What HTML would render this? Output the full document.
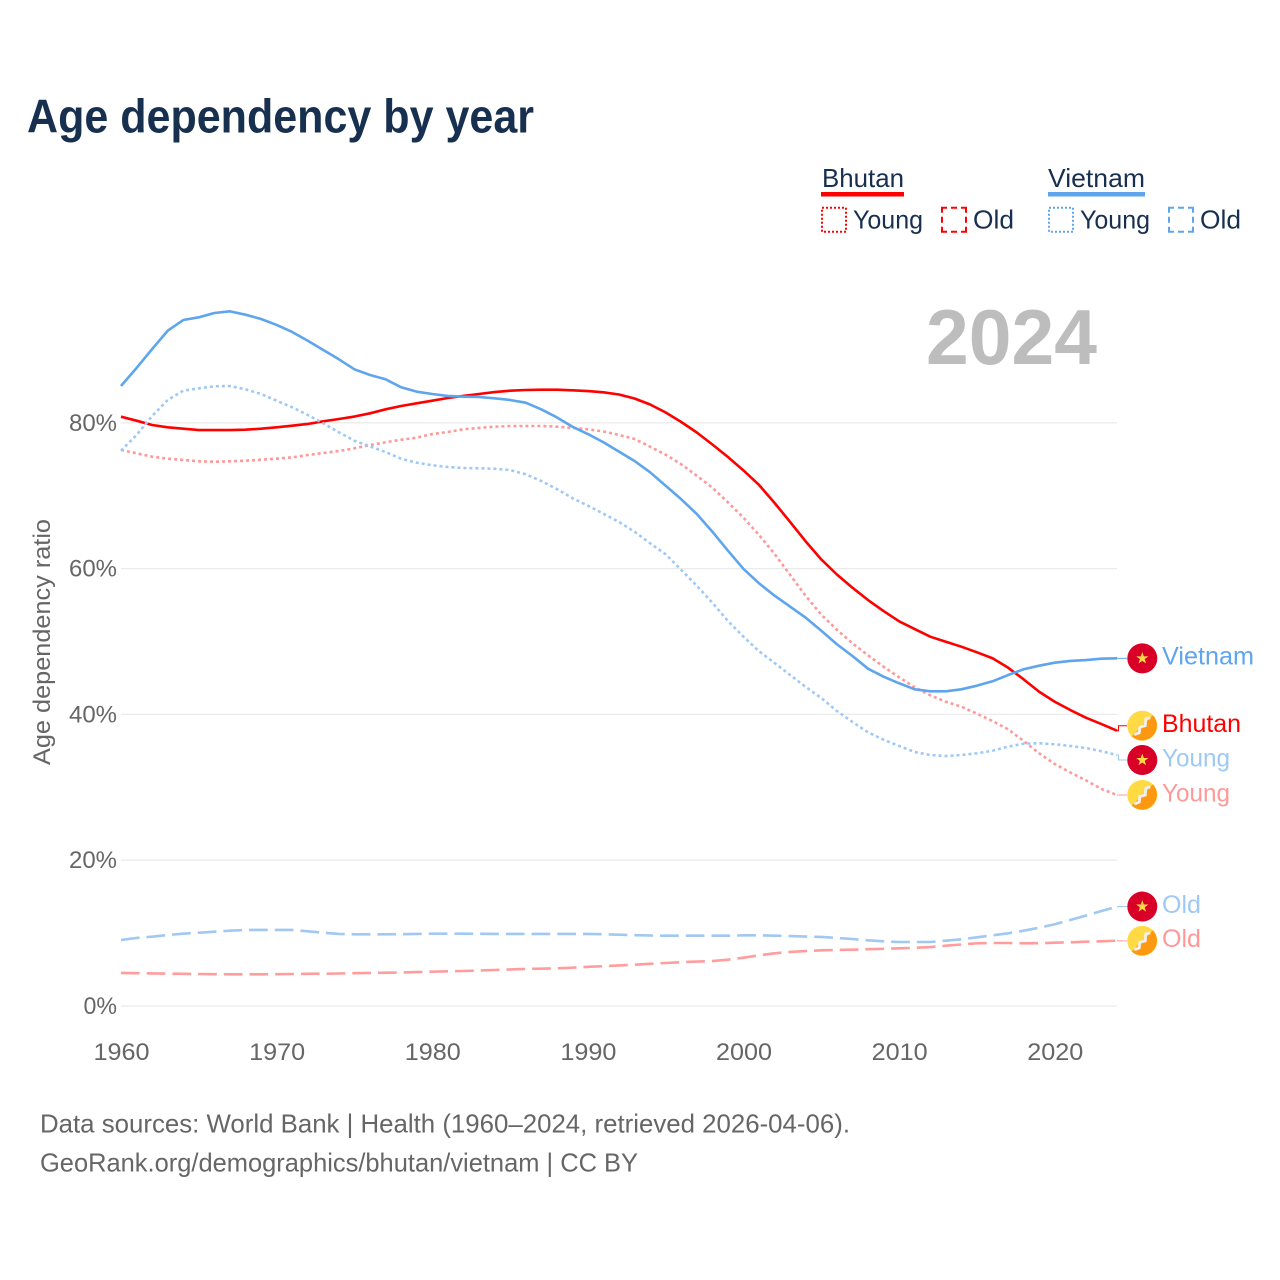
<!DOCTYPE html>
<html lang="en">
<head>
<meta charset="utf-8">
<title>Age dependency by year</title>
<style>
html,body{margin:0;padding:0;background:#fff;}
svg{display:block;}
text{font-family:"Liberation Sans",sans-serif;}
</style>
</head>
<body>
<svg id="chart" xmlns="http://www.w3.org/2000/svg" width="1280" height="1280" viewBox="0 0 1280 1280">
  <defs>
    <g id="flag-vietnam">
      <circle r="15" fill="#d80027"/>
      <polygon points="0,-6.4 1.5,-2 6.1,-2 2.4,0.8 3.8,5.2 0,2.5 -3.8,5.2 -2.4,0.8 -6.1,-2 -1.5,-2" fill="#ffda44"/>
    </g>
    <g id="flag-bhutan">
      <circle r="15" fill="#ffda44"/>
      <path d="M10.6,-10.6A15,15 0 0 1 -10.6,10.6Z" fill="#ff9811"/>
      <polyline points="-8,9 -3,7 -2.5,1.5 3,0 3.5,-7 8,-8" fill="none" stroke="#f0f0f0" stroke-width="2.8"/>
    </g>
  </defs>
  <rect width="1280" height="1280" fill="#fff"/>
  <text x="27" y="132.5" font-size="47" font-weight="700" fill="#18304f" textLength="507" lengthAdjust="spacingAndGlyphs">Age dependency by year</text>

  <g>
    <g>
      <text x="822" y="187" font-size="26" fill="#18304f" textLength="82" lengthAdjust="spacingAndGlyphs">Bhutan</text>
      <rect x="821" y="192" width="83" height="4.5" fill="#ff0000"/>
      <rect x="822" y="207.7" width="24" height="24" fill="none" stroke="#ff0000" stroke-width="2" stroke-dasharray="2 2"/>
      <text x="853" y="228.5" font-size="26" fill="#18304f" textLength="70" lengthAdjust="spacingAndGlyphs">Young</text>
      <rect x="942" y="207.7" width="24" height="24" fill="none" stroke="#ff0000" stroke-width="2" stroke-dasharray="10 4 6 4" stroke-dashoffset="5"/>
      <text x="973" y="228.5" font-size="26" fill="#18304f" textLength="41" lengthAdjust="spacingAndGlyphs">Old</text>
    </g>
    <g>
      <text x="1048" y="187" font-size="26" fill="#18304f" textLength="97" lengthAdjust="spacingAndGlyphs">Vietnam</text>
      <rect x="1048" y="192" width="97" height="4.5" fill="#5ea5ee"/>
      <rect x="1049" y="207.7" width="24" height="24" fill="none" stroke="#5ea5ee" stroke-width="2" stroke-dasharray="2 2"/>
      <text x="1080" y="228.5" font-size="26" fill="#18304f" textLength="70" lengthAdjust="spacingAndGlyphs">Young</text>
      <rect x="1169" y="207.7" width="24" height="24" fill="none" stroke="#5ea5ee" stroke-width="2" stroke-dasharray="10 4 6 4" stroke-dashoffset="5"/>
      <text x="1200" y="228.5" font-size="26" fill="#18304f" textLength="41" lengthAdjust="spacingAndGlyphs">Old</text>
    </g>
  </g>

  <text x="926" y="364" font-size="78" font-weight="700" fill="#bdbdbd" textLength="171" lengthAdjust="spacingAndGlyphs">2024</text>
  <text transform="translate(50,765) rotate(-90)" font-size="24.5" fill="#666666" textLength="246" lengthAdjust="spacingAndGlyphs">Age dependency ratio</text>

  <g id="grid"></g>
  <g id="xticks"></g>
  <g id="series"></g>
  <g id="labels"></g>

  <text x="40" y="1132.5" font-size="26" fill="#666666" textLength="810" lengthAdjust="spacingAndGlyphs">Data sources: World Bank | Health (1960–2024, retrieved 2026-04-06).</text>
  <text x="40" y="1171.5" font-size="26" fill="#666666" textLength="598" lengthAdjust="spacingAndGlyphs">GeoRank.org/demographics/bhutan/vietnam | CC BY</text>
</svg>
<script>
var startYear = 1960;
var yTickValues = [0, 20, 40, 60, 80];
var xTickYears = [1960, 1970, 1980, 1990, 2000, 2010, 2020];

var bhutanTotal = [
  80.84,80.29,79.70,79.38,79.19,79.01,79.01,79.01,79.05,79.19,
  79.38,79.60,79.84,80.20,80.52,80.86,81.30,81.85,82.30,82.67,
  83.03,83.40,83.68,83.95,84.22,84.40,84.50,84.54,84.54,84.46,
  84.36,84.18,83.88,83.33,82.51,81.41,80.11,78.67,77.02,75.31,
  73.46,71.47,69.00,66.39,63.72,61.25,59.19,57.38,55.69,54.18,
  52.77,51.71,50.66,49.97,49.29,48.52,47.70,46.41,44.81,43.11,
  41.74,40.60,39.55,38.68,37.76
];
var bhutanYoung = [
  76.27,75.82,75.35,75.08,74.90,74.72,74.66,74.72,74.80,74.94,
  75.08,75.27,75.58,75.86,76.13,76.50,76.95,77.33,77.68,77.96,
  78.46,78.74,79.11,79.29,79.47,79.56,79.56,79.56,79.47,79.29,
  79.11,78.81,78.33,77.78,76.72,75.62,74.31,72.74,71.10,69.09,
  66.98,64.61,62.00,59.12,56.24,53.68,51.62,49.75,48.11,46.54,
  45.09,43.72,42.62,41.74,41.06,40.10,39.09,37.96,36.35,34.66,
  33.20,32.03,30.96,29.77,28.94
];
var bhutanOld = [
  4.53,4.50,4.47,4.44,4.42,4.39,4.36,4.35,4.35,4.35,
  4.36,4.39,4.42,4.43,4.46,4.50,4.53,4.57,4.60,4.66,
  4.71,4.76,4.80,4.87,4.94,5.01,5.08,5.12,5.17,5.25,
  5.38,5.46,5.56,5.67,5.79,5.90,6.01,6.10,6.17,6.35,
  6.63,6.95,7.23,7.41,7.54,7.64,7.68,7.72,7.79,7.85,
  7.91,7.98,8.09,8.27,8.44,8.60,8.64,8.64,8.60,8.61,
  8.68,8.74,8.82,8.87,8.96
];
var vietnamTotal = [
  85.05,87.52,90.12,92.63,94.10,94.47,95.06,95.29,94.83,94.24,
  93.42,92.46,91.26,89.99,88.71,87.34,86.56,85.97,84.87,84.27,
  83.95,83.68,83.58,83.54,83.36,83.13,82.76,81.85,80.75,79.47,
  78.46,77.33,76.04,74.76,73.21,71.37,69.51,67.49,65.06,62.46,
  59.95,57.98,56.28,54.77,53.26,51.48,49.62,48.01,46.27,45.17,
  44.27,43.44,43.17,43.17,43.44,43.94,44.54,45.40,46.19,46.68,
  47.09,47.33,47.46,47.64,47.69
];
var vietnamYoung = [
  76.17,78.33,80.93,83.13,84.40,84.73,85.01,85.05,84.59,83.95,
  83.03,82.13,81.07,79.93,78.70,77.54,76.77,75.99,75.07,74.53,
  74.17,73.94,73.80,73.76,73.70,73.52,72.94,72.02,70.92,69.68,
  68.63,67.53,66.39,65.06,63.47,61.96,59.81,57.65,55.32,52.81,
  50.66,48.66,47.05,45.40,43.76,42.25,40.47,38.96,37.54,36.53,
  35.67,34.84,34.43,34.29,34.43,34.66,35.02,35.57,35.98,36.04,
  35.90,35.67,35.39,34.94,34.43
];
var vietnamOld = [
  9.05,9.33,9.51,9.74,9.92,10.05,10.19,10.33,10.43,10.43,
  10.43,10.43,10.25,10.05,9.88,9.84,9.84,9.84,9.85,9.88,
  9.92,9.92,9.92,9.90,9.88,9.88,9.88,9.88,9.88,9.88,
  9.88,9.84,9.78,9.71,9.67,9.64,9.64,9.64,9.64,9.64,
  9.69,9.69,9.64,9.60,9.53,9.47,9.33,9.19,9.01,8.87,
  8.78,8.78,8.78,8.96,9.15,9.42,9.69,9.97,10.33,10.74,
  11.21,11.80,12.39,13.03,13.62
];

function xScale(year) { return 121 + (year - 1960) * 15.5625; }
function yScale(value) { return 1006 - value * 7.29; }

var SVG_NS = 'http://www.w3.org/2000/svg';
function make(tag, parent, attrs) {
  var el = document.createElementNS(SVG_NS, tag);
  for (var k in attrs) { el.setAttribute(k, attrs[k]); }
  parent.appendChild(el);
  return el;
}

var gridGroup = document.getElementById('grid');
yTickValues.forEach(function (v) {
  var line = make('line', gridGroup, { x1: 121, x2: 1117, y1: yScale(v), y2: yScale(v), stroke: '#ebebeb', 'stroke-width': 1.3 });
  
  
  var label = make('text', gridGroup, { x: 117, y: yScale(v) + 8, 'font-size': 24, fill: '#666666', 'text-anchor': 'end', textLength: v === 0 ? 33.5 : 48, lengthAdjust: 'spacingAndGlyphs' });
  label.textContent = v + '%';
  
  
});

var xGroup = document.getElementById('xticks');
xTickYears.forEach(function (yr) {
  var label = make('text', xGroup, { x: xScale(yr) + 0.5, y: 1060, 'font-size': 24, fill: '#666666', 'text-anchor': 'middle', textLength: 56, lengthAdjust: 'spacingAndGlyphs' });
  label.textContent = yr;
  
  
});

var seriesList = [
  { id: 'bhutan-total', values: bhutanTotal, color: '#ff0000', labelColor: '#ff0000', dash: '', label: 'Bhutan', labelWidth: 79, flag: '#flag-bhutan' },
  { id: 'bhutan-young', values: bhutanYoung, color: '#ff9999', labelColor: '#ff9999', dash: '3 3', label: 'Young', labelWidth: 68, flag: '#flag-bhutan' },
  { id: 'bhutan-old', values: bhutanOld, color: '#ff9d9d', labelColor: '#ff9999', dash: '18.7 7', label: 'Old', labelWidth: 39, flag: '#flag-bhutan' },
  { id: 'vietnam-total', values: vietnamTotal, color: '#5ea5ee', labelColor: '#5ea5ee', dash: '', label: 'Vietnam', labelWidth: 92, flag: '#flag-vietnam' },
  { id: 'vietnam-young', values: vietnamYoung, color: '#9fc9f5', labelColor: '#9fc9f5', dash: '3 3', label: 'Young', labelWidth: 68, flag: '#flag-vietnam' },
  { id: 'vietnam-old', values: vietnamOld, color: '#a0c8f2', labelColor: '#9fc9f5', dash: '18.7 7', label: 'Old', labelWidth: 39, flag: '#flag-vietnam' }
];

var seriesGroup = document.getElementById('series');
seriesList.forEach(function (s) {
  var d = s.values.map(function (v, i) {
    return (i ? 'L' : 'M') + xScale(startYear + i).toFixed(2) + ',' + yScale(v).toFixed(2);
  }).join('');
  var attrs = { d: d, fill: 'none', stroke: s.color, 'stroke-width': 2.6, 'stroke-linejoin': 'round' };
  if (s.dash) { attrs['stroke-dasharray'] = s.dash; }
  var path = make('path', seriesGroup, attrs);
  
  
  s.lastY = yScale(s.values[s.values.length - 1]);
  s.labelY = s.lastY;
});

/* dodge colliding end labels: neighbours closer than the label height are pushed apart */
var labelGap = 34.3;
var ordered = seriesList.slice().sort(function (a, b) { return a.lastY - b.lastY; });
for (var i = 0; i < ordered.length - 1; i++) {
  var gap = ordered[i + 1].labelY - ordered[i].labelY;
  if (gap < labelGap) {
    var push = (labelGap - gap) / 2;
    ordered[i].labelY -= push;
    ordered[i + 1].labelY += push;
  }
}

var labelGroup = document.getElementById('labels');
seriesList.forEach(function (s) {
  var connector = make('path', labelGroup, {
    d: 'M1117,' + s.lastY.toFixed(2) + 'H1118.5V' + s.labelY.toFixed(2) + 'H1127',
    fill: 'none', stroke: s.color, 'stroke-width': 1
  });
  
  
  var flag = make('use', labelGroup, { href: s.flag, transform: 'translate(1142.3,' + s.labelY.toFixed(2) + ')' });
  
  
  var text = make('text', labelGroup, {
    x: 1162, y: (s.labelY + 6.3).toFixed(2), 'font-size': 25, fill: s.labelColor,
    textLength: s.labelWidth, lengthAdjust: 'spacingAndGlyphs'
  });
  text.textContent = s.label;
  
  
});
</script>
</body>
</html>
